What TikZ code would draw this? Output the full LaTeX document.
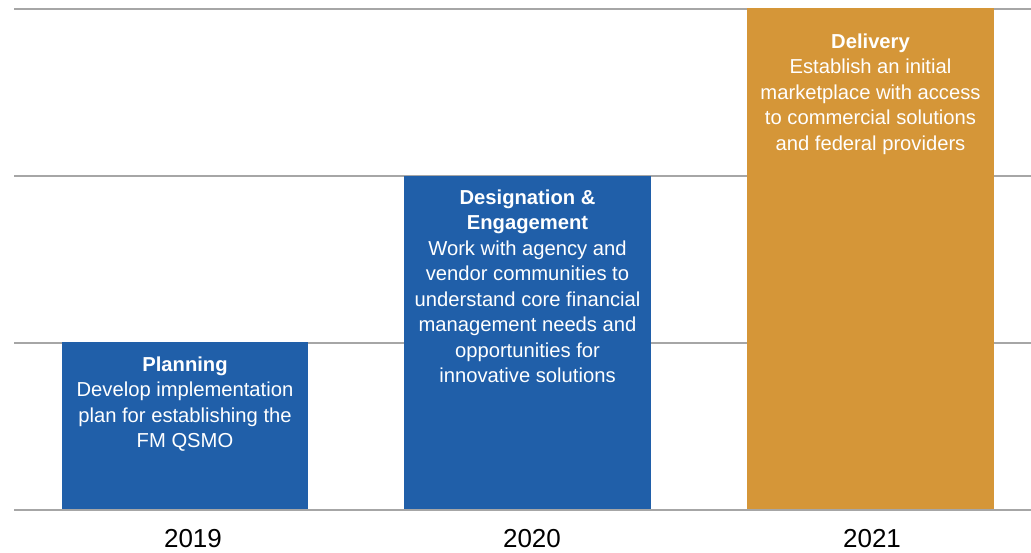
\documentclass[tikz,border=0pt]{standalone}
\usepackage{fontspec}
\setmainfont{Liberation Sans}
\definecolor{barblue}{HTML}{205FA9}
\definecolor{barorange}{HTML}{D59638}
\definecolor{gridgray}{HTML}{A6A6A6}
\begin{document}
\begin{tikzpicture}[x=1pt,y=-1pt,
  gridline/.style={draw=gridgray,line width=2pt},
  bartext/.style={anchor=north,inner sep=0pt,align=center,text=white,
    font=\fontsize{20.2}{25.5}\selectfont},
  yearlabel/.style={anchor=base,inner sep=0pt,font=\fontsize{26}{30}\selectfont,text=black}]
  \useasboundingbox (0,0) rectangle (1031,552);
  % horizontal grid
  \foreach \gy in {8.5,175.5,342.5,509.5}
    \draw[gridline] (14,\gy) -- (1031,\gy);
  % bars
  \fill[barblue]   (62,342)  rectangle (308,509) coordinate (b1);
  \fill[barblue]   (404,176) rectangle (651,509) coordinate (b2);
  \fill[barorange] (747,8)   rectangle (994,509) coordinate (b3);
  % bar captions
  \node[bartext] (planning) at (185,356.5)
    {{\bfseries Planning}\\Develop implementation\\plan for establishing the\\FM QSMO};
  \node[bartext] (designation) at (527.5,189.5)
    {{\bfseries Designation \&}\\{\bfseries Engagement}\\Work with agency and\\vendor communities to\\understand core financial\\management needs and\\opportunities for\\innovative solutions};
  \node[bartext] (delivery) at (870.5,33.5)
    {{\bfseries Delivery}\\Establish an initial\\marketplace with access\\to commercial solutions\\and federal providers};
  % years
  \node[yearlabel] (y2019) at (193,547) {2019};
  \node[yearlabel] (y2020) at (532,547) {2020};
  \node[yearlabel] (y2021) at (872,547) {2021};
\end{tikzpicture}
\end{document}
